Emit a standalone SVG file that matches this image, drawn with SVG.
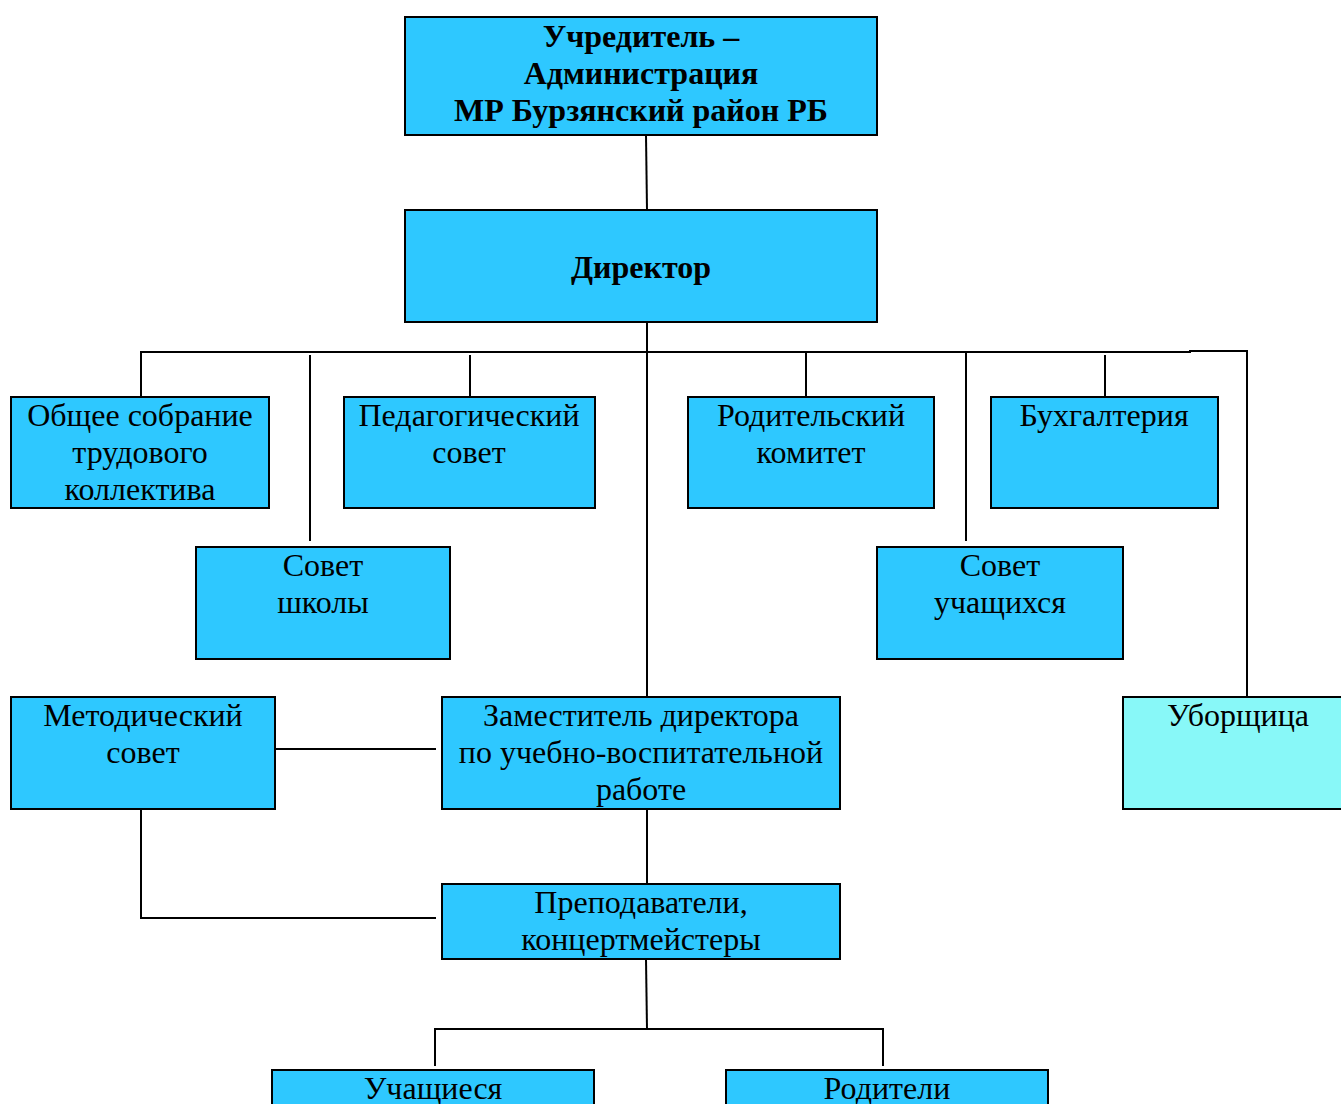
<svg xmlns="http://www.w3.org/2000/svg" width="1341" height="1104" viewBox="0 0 1341 1104">
<style>
.b{fill:#2EC8FF;stroke:#000;stroke-width:2}
.c{fill:#88F8F8;stroke:#000;stroke-width:2}
.t{font-family:"Liberation Serif","Times New Roman",serif;font-size:32px;fill:#000;text-anchor:middle}
.tb{font-weight:bold}
#connectors path{fill:none;stroke:#000;stroke-width:2}
</style>
<rect width="1341" height="1104" fill="#fff"/>
<g id="connectors">
<path d="M646 135 L647 210"/>
<path d="M647 322 L647 697"/>
<path d="M141 397 L141 352 L1190 352 L1190 351 L1247 351 L1247 697"/>
<path d="M310 355 L310 541"/>
<path d="M470 355 L470 397"/>
<path d="M806 352 L806 397"/>
<path d="M966 352 L966 541"/>
<path d="M1105 355 L1105 397"/>
<path d="M275 749 L436 749"/>
<path d="M141 809 L141 918 L436 918"/>
<path d="M647 809 L647 884"/>
<path d="M646 959 L647 1029"/>
<path d="M435 1066 L435 1029 L883 1029 L883 1066"/>
</g>
<g id="uchreditel"><rect class="b" x="405" y="17" width="472" height="118"/>
<text class="t tb" x="641" y="47">Учредитель –</text>
<text class="t tb" x="641" y="84">Администрация</text>
<text class="t tb" x="641" y="121">МР Бурзянский район РБ</text></g>
<g id="director"><rect class="b" x="405" y="210" width="472" height="112"/>
<text class="t tb" x="641" y="278">Директор</text></g>
<g id="obshchee"><rect class="b" x="11" y="397" width="258" height="111"/>
<text class="t" x="140" y="426">Общее собрание</text>
<text class="t" x="140" y="463">трудового</text>
<text class="t" x="140" y="500">коллектива</text></g>
<g id="pedsovet"><rect class="b" x="344" y="397" width="251" height="111"/>
<text class="t" x="469" y="426">Педагогический</text>
<text class="t" x="469" y="463">совет</text></g>
<g id="roditkom"><rect class="b" x="688" y="397" width="246" height="111"/>
<text class="t" x="811" y="426">Родительский</text>
<text class="t" x="811" y="463">комитет</text></g>
<g id="buh"><rect class="b" x="991" y="397" width="227" height="111"/>
<text class="t" x="1104" y="426">Бухгалтерия</text></g>
<g id="sovetshkoly"><rect class="b" x="196" y="547" width="254" height="112"/>
<text class="t" x="323" y="576">Совет</text>
<text class="t" x="323" y="613">школы</text></g>
<g id="sovetuch"><rect class="b" x="877" y="547" width="246" height="112"/>
<text class="t" x="1000" y="576">Совет</text>
<text class="t" x="1000" y="613">учащихся</text></g>
<g id="metod"><rect class="b" x="11" y="697" width="264" height="112"/>
<text class="t" x="143" y="726">Методический</text>
<text class="t" x="143" y="763">совет</text></g>
<g id="zam"><rect class="b" x="442" y="697" width="398" height="112"/>
<text class="t" x="641" y="726">Заместитель директора</text>
<text class="t" x="641" y="763">по учебно-воспитательной</text>
<text class="t" x="641" y="800">работе</text></g>
<g id="uborsh"><rect class="c" x="1123" y="697" width="230" height="112"/>
<text class="t" x="1238" y="726">Уборщица</text></g>
<g id="prepod"><rect class="b" x="442" y="884" width="398" height="75"/>
<text class="t" x="641" y="913">Преподаватели,</text>
<text class="t" x="641" y="950">концертмейстеры</text></g>
<g id="uchashchiesya"><rect class="b" x="272" y="1070" width="322" height="50"/>
<text class="t" x="433" y="1099">Учащиеся</text></g>
<g id="roditeli"><rect class="b" x="726" y="1070" width="322" height="50"/>
<text class="t" x="887" y="1099">Родители</text></g>
</svg>
